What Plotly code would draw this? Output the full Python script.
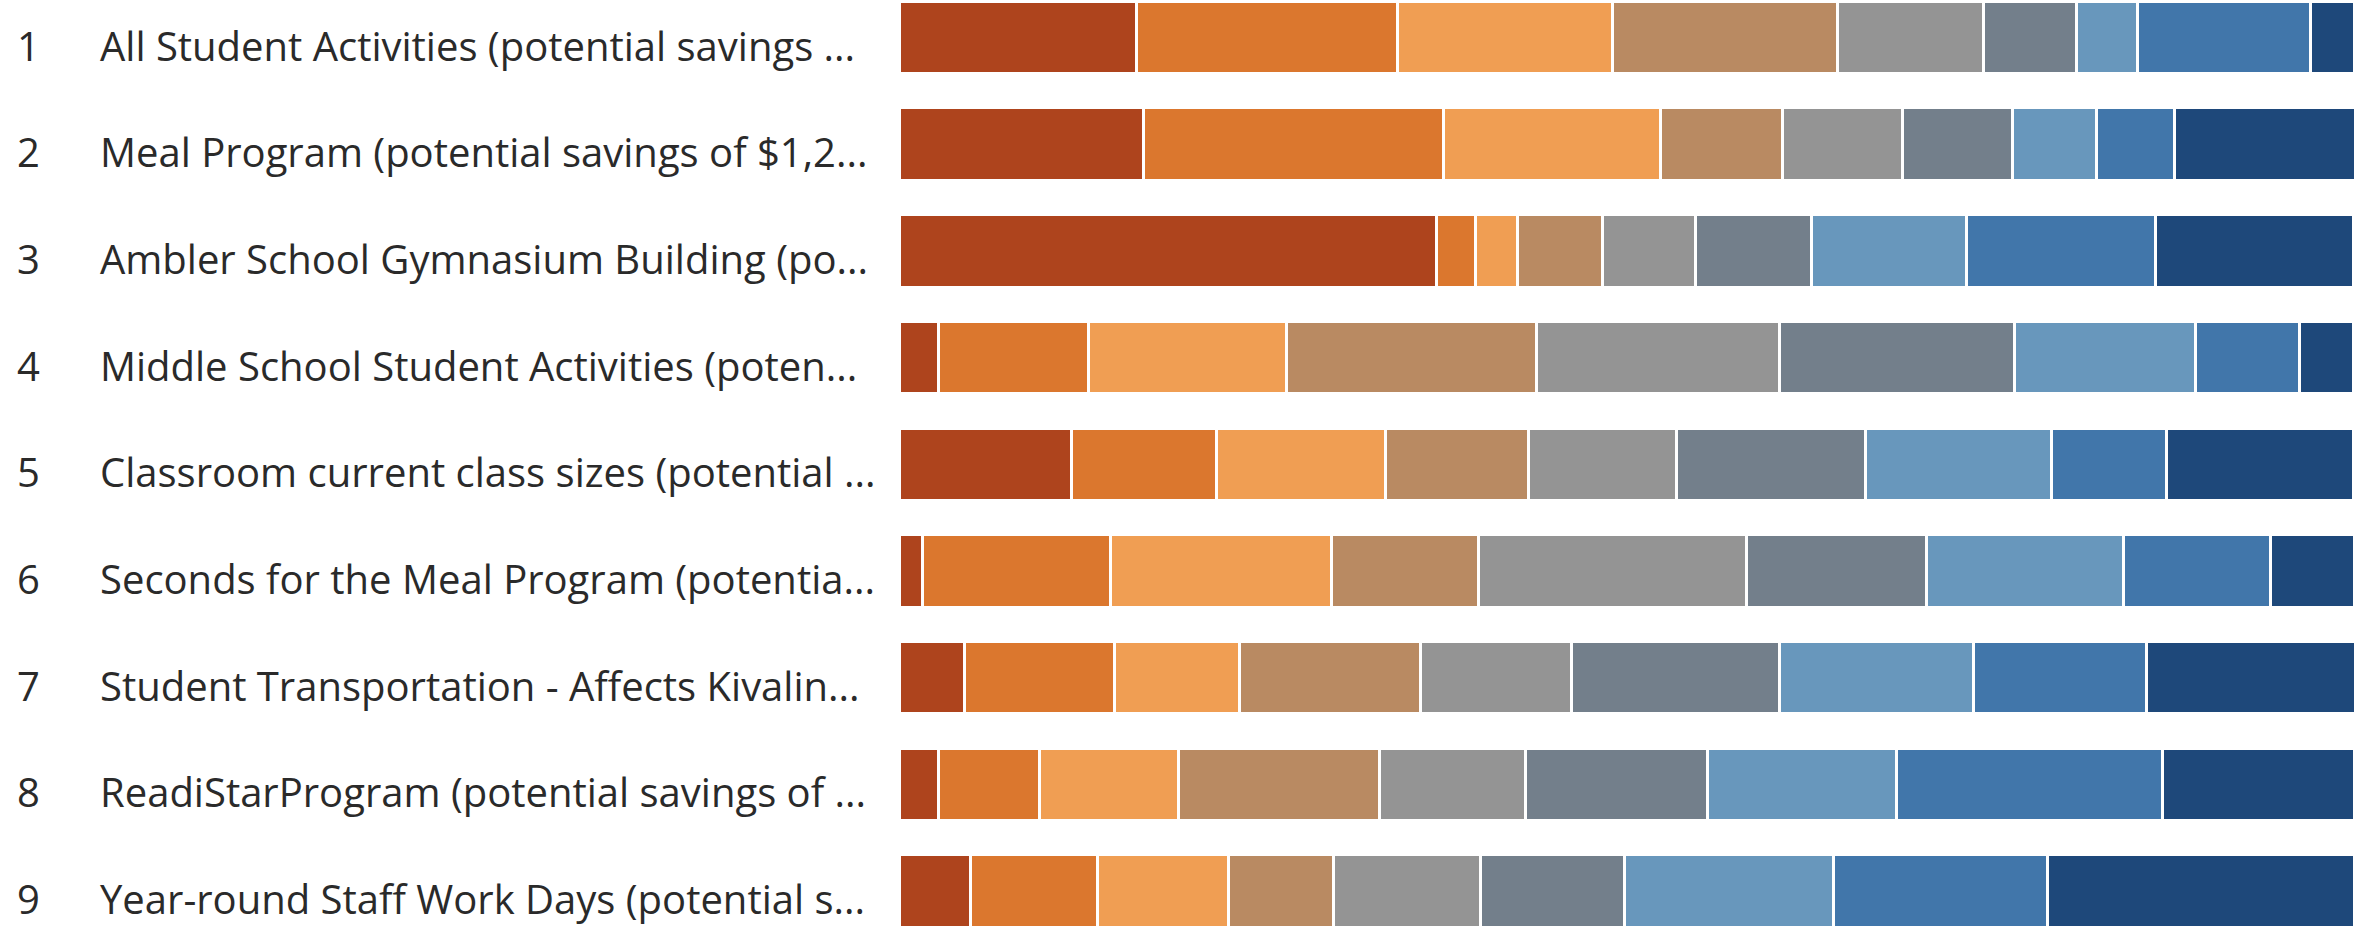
import plotly.graph_objects as go

# Budget items, in the order they are listed
item_numbers = ["1", "2", "3", "4", "5", "6", "7", "8", "9"]
item_labels = [
    "All Student Activities (potential savings ...",
    "Meal Program (potential savings of $1,2...",
    "Ambler School Gymnasium Building (po...",
    "Middle School Student Activities (poten...",
    "Classroom current class sizes (potential ...",
    "Seconds for the Meal Program (potentia...",
    "Student Transportation - Affects Kivalin...",
    "ReadiStarProgram (potential savings of ...",
    "Year-round Staff Work Days (potential s...",
]

# Share of responses (%) giving each rank, rank 1 .. rank 9, per item
rank_1 = [16.3, 16.8, 36.9, 2.7, 11.8, 1.6, 4.5, 2.7, 4.9]
rank_2 = [17.9, 20.6, 2.7, 10.3, 10.0, 12.9, 10.3, 6.9, 8.7]
rank_3 = [14.8, 14.9, 2.9, 13.6, 11.6, 15.2, 8.6, 9.6, 9.0]
rank_4 = [15.5, 8.4, 5.8, 17.2, 9.8, 10.1, 12.4, 13.8, 7.2]
rank_5 = [10.0, 8.2, 6.4, 16.7, 10.2, 18.4, 10.4, 10.0, 10.1]
rank_6 = [6.4, 7.6, 8.0, 16.1, 13.0, 12.4, 14.3, 12.5, 9.9]
rank_7 = [4.2, 5.8, 10.6, 12.5, 12.8, 13.5, 13.3, 13.0, 14.4]
rank_8 = [11.9, 5.3, 13.0, 7.1, 7.9, 10.1, 11.9, 18.3, 14.7]
rank_9 = [3.0, 12.5, 13.6, 3.7, 12.8, 5.8, 14.4, 13.2, 21.1]

rank_names = ["Rank 1", "Rank 2", "Rank 3", "Rank 4", "Rank 5",
              "Rank 6", "Rank 7", "Rank 8", "Rank 9"]
rank_values = [rank_1, rank_2, rank_3, rank_4, rank_5,
               rank_6, rank_7, rank_8, rank_9]
rank_colors = ["#AE441D", "#DB772E", "#F09E53", "#B98A62", "#949494",
               "#737F8B", "#6897BC", "#4176AA", "#1E487A"]

W, H = 2369, 929
PLOT_L, PLOT_R = 900, 2355
ROW_STEP = 106.7
FIRST_CENTER = 38.0

positions = list(range(1, len(item_labels) + 1))

fig = go.Figure()
for name, vals, col in zip(rank_names, rank_values, rank_colors):
    fig.add_trace(go.Bar(
        name=name,
        x=vals,
        y=positions,
        orientation="h",
        width=0.68,
        marker=dict(color=col, line=dict(color="white", width=3)),
        hovertemplate="%{x:.1f}%<extra>" + name + "</extra>",
    ))

# y range so that row centres land on their pixel rows
y_top = 1 - FIRST_CENTER / ROW_STEP
y_bot = y_top + H / ROW_STEP

span = PLOT_R - PLOT_L
font_family = "'Open Sans', 'Noto Sans', sans-serif"
for pos, num, lab in zip(positions, item_numbers, item_labels):
    fig.add_annotation(x=(15 - PLOT_L) / span, xref="paper", y=pos, yref="y",
                       text=num, showarrow=False, xanchor="left", yanchor="middle",
                       yshift=-7, font=dict(size=40, color="#2a2a2a", family=font_family))
    fig.add_annotation(x=(98 - PLOT_L) / span, xref="paper", y=pos, yref="y",
                       text=lab, showarrow=False, xanchor="left", yanchor="middle",
                       yshift=-7, font=dict(size=40, color="#2a2a2a", family=font_family))

fig.update_layout(
    barmode="stack",
    width=W, height=H,
    margin=dict(l=PLOT_L, r=W - PLOT_R, t=0, b=0),
    paper_bgcolor="white", plot_bgcolor="white",
    showlegend=False,
    bargap=0,
    xaxis=dict(range=[0, 100], visible=False, fixedrange=True),
    yaxis=dict(range=[y_bot, y_top], visible=False, fixedrange=True),
)

fig.write_html("out.html")
